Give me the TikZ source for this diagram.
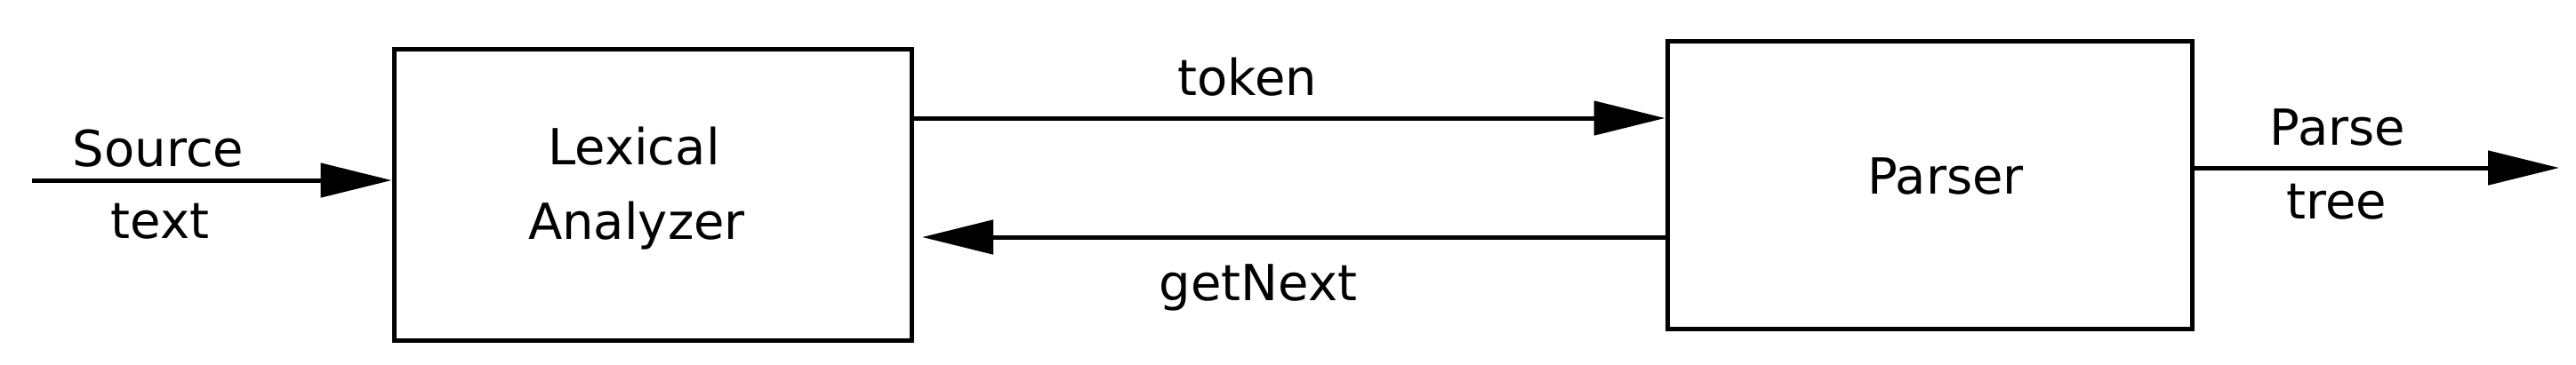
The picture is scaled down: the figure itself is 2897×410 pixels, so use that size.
\documentclass[tikz,border=0pt]{standalone}
\usepackage{fontspec}
\setmainfont{DejaVu Sans}
\usetikzlibrary{arrows.meta}
\tikzset{
  blockbox/.style={draw=black, line width=1.25pt, inner sep=0pt, fill=white},
  lbl/.style={anchor=base, inner sep=0pt, font=\fontsize{14pt}{17pt}\selectfont},
  arr/.style={line width=1.25pt, -{Triangle[length=20pt,width=9.5pt]}}
}
\begin{document}
\begin{tikzpicture}[x=0.25pt,y=-0.25pt]
\useasboundingbox (0,0) rectangle (2897,410);
% boxes
\node[blockbox, minimum width=145.5pt, minimum height=82pt] (lex) at (734,219) {};
\node[blockbox, minimum width=147.5pt, minimum height=81pt] (parser) at (2170,208) {};
% box texts
\node[lbl] (lex1) at (713,185) {Lexical};
\node[lbl] (lex2) at (716,269) {Analyzer};
\node[lbl] (ptxt) at (2188,218) {Parser};
% helper coordinates
\coordinate (srcstart) at (36,203);
\coordinate (toky) at (0,133);
\coordinate (getend) at (1037,267);
\coordinate (ptend) at (2878,189);
% connectors
\draw[arr] (srcstart) -- (lex.west |- srcstart);
\draw[arr] (lex.east |- toky) -- (parser.west |- toky);
\draw[arr] (parser.west |- getend) -- (getend);
\draw[arr] (parser.east |- ptend) -- (ptend);
% labels
\node[lbl] (src1) at (178,187) {Source};
\node[lbl] (src2) at (180,268) {text};
\node[lbl] (tok) at (1403,107) {token};
\node[lbl] (gn) at (1415,338) {getNext};
\node[lbl] (pt1) at (2629,163) {Parse};
\node[lbl] (pt2) at (2628,246) {tree};
\end{tikzpicture}
\end{document}
